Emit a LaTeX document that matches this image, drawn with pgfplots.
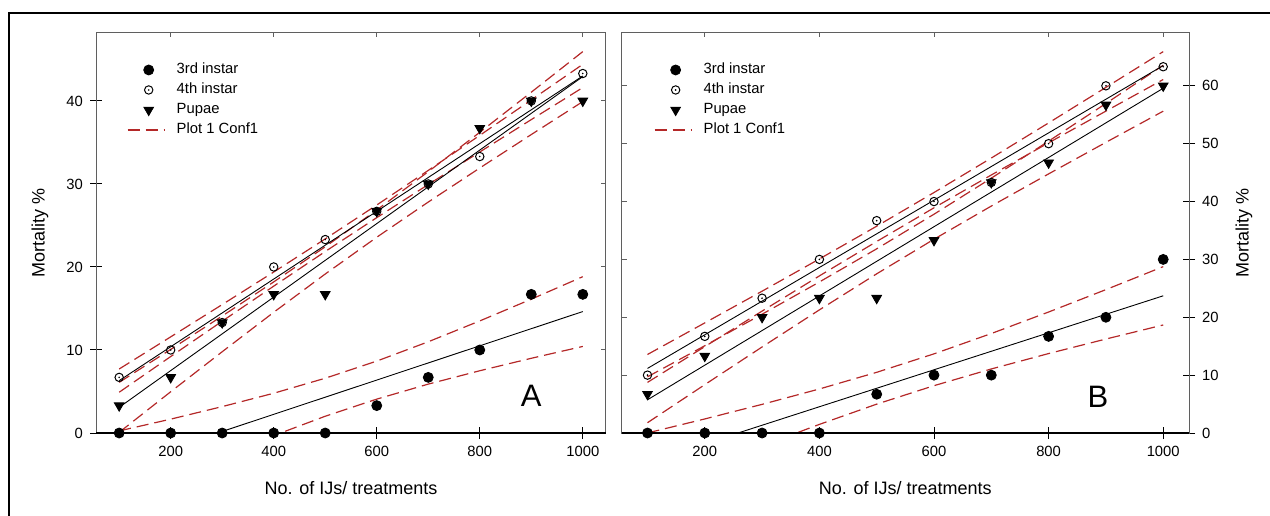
\documentclass[border=0pt]{standalone}
\usepackage{pgfplots}
\pgfplotsset{compat=1.18}
\usepackage{fontspec}
\setmainfont{Liberation Sans}

\definecolor{confred}{RGB}{180,40,40}
\definecolor{framegray}{RGB}{95,95,95}

% open circle with a centre dot
\pgfdeclareplotmark{odot}{%
  \pgfpathcircle{\pgfpointorigin}{\pgfplotmarksize}%
  \pgfusepathqstroke
  \pgfpathcircle{\pgfpointorigin}{0.22\pgfplotmarksize}%
  \pgfusepathqfill}

\pgfplotsset{
  panel/.style={
    scale only axis, height=200.5pt,
    xmin=55, xmax=1045, ymin=0,
    xtick={200,400,600,800,1000},
    tick align=center, major tick length=6pt,
    xtick pos=left,
    axis line style={draw=framegray, line width=0.5pt},
    tick style={black, line width=0.5pt},
    ticklabel style={font=\fontsize{7.4}{8}\selectfont},
    /pgf/number format/assume math mode=true,
    /pgf/number format/1000 sep={},
    label style={font=\fontsize{9}{10}\selectfont},
    xlabel={No. of IJs/ treatments},
    ylabel={Mortality \%},
    xlabel style={at={(axis description cs:0.5,-0.137)}, anchor=center},
    clip mode=individual,
    legend cell align=left,
    legend style={draw=none, fill=none, inner sep=0pt, outer sep=0pt,
      font=\fontsize{7.4}{8}\selectfont, row sep=2.1pt,
      nodes={inner sep=0.5pt, text height=5.3pt, text depth=1.6pt}},
  },
  mirror/.style={
    scale only axis, height=200.5pt,
    xmin=55, xmax=1045, ymin=0,
    xtick={200,400,600,800,1000},
    xtick pos=right,
    tick align=inside, major tick length=2.5pt,
    xticklabels={}, yticklabels={},
    axis line style={draw=none},
    tick style={framegray, line width=0.5pt},
  },
  markimg/.style={legend image code/.code={%
    \path[draw=none, fill=none] (0pt,-2pt) rectangle (24pt,2pt);
    \draw[mark repeat=2,mark phase=2,##1] plot coordinates {(0pt,0pt) (10.5pt,0pt) (18.5pt,0pt)};}},
  s3/.style={only marks, mark=*, mark size=2.5pt, black, markimg},
  s4/.style={only marks, mark=odot, mark size=2.1pt, black, line width=0.5pt, markimg},
  sp/.style={only marks, mark=triangle*, mark size=2.8pt, mark options={rotate=180}, black, markimg},
  reg/.style={black, line width=0.45pt, no marks, forget plot},
  conf/.style={confred, line width=0.6pt, dash pattern=on 6pt off 3pt, no marks,
    legend image code/.code={\path[draw=none, fill=none] (0pt,-2pt) rectangle (24pt,2pt); \draw[##1] (0pt,0pt) -- (18.5pt,0pt);}},
}

\begin{document}
\begin{tikzpicture}
\useasboundingbox (0pt,0pt) rectangle (635pt,-257.5pt);
\draw[line width=1pt] (4.5pt,-300pt) -- (4.5pt,-6.5pt) -- (700pt,-6.5pt);

% ---------------- panel A ----------------
\begin{axis}[mirror, at={(48pt,-216.5pt)}, anchor=south west, width=255pt,
  ymax=48.3, ytick={10,20,30,40}, ytick pos=right]
\end{axis}

\begin{axis}[panel, at={(48pt,-216.5pt)}, anchor=south west, width=255pt,
  ymax=48.3, ytick={0,10,20,30,40}, ytick pos=left,
  ylabel style={at={(axis description cs:-0.1098,0.5)}, anchor=center},
  legend style={at={(axis description cs:0.061,0.925)}, anchor=north west}]

% confidence bands
\addplot[conf, forget plot] coordinates {(100,7.71) (200,11.58) (300,15.47) (400,19.39) (500,23.38) (600,27.46) (700,31.63) (800,35.85) (900,40.12) (1000,44.41)};
\addplot[conf, forget plot] coordinates {(100,4.91) (200,9.21) (300,13.47) (400,17.69) (500,21.86) (600,25.94) (700,29.93) (800,33.85) (900,37.75) (1000,41.61)};
\addplot[conf, forget plot] coordinates {(100,6.10) (200,10.07) (300,14.09) (400,18.20) (500,22.43) (600,26.86) (700,31.48) (800,36.22) (900,41.05) (1000,45.94)};
\addplot[conf, forget plot] coordinates {(100,0.08) (200,4.97) (300,9.79) (400,14.54) (500,19.15) (600,23.58) (700,27.82) (800,31.92) (900,35.95) (1000,39.92)};
\addplot[conf, forget plot] coordinates {(100,0.25) (200,1.67) (300,3.18) (400,4.79) (500,6.60) (600,8.66) (700,10.99) (800,13.50) (900,16.12) (1000,18.83)};
\addplot[conf, forget plot] coordinates {(100,-8.15) (200,-5.45) (300,-2.82) (400,-0.31) (500,2.02) (600,4.08) (700,5.89) (800,7.50) (900,9.00) (1000,10.43)};

% regression lines
\addplot[reg] coordinates {(100,6.31) (1000,43.01)};
\addplot[reg] coordinates {(100,3.09) (1000,42.93)};
\addplot[reg] coordinates {(291,0) (1000,14.63)};

% data
\addplot[s3] coordinates {(100,0) (200,0) (300,0) (400,0) (500,0) (600,3.3) (700,6.7) (800,10) (900,16.7) (1000,16.7)};
\addlegendentry{3rd instar}
\addplot[s4] coordinates {(100,6.7) (200,10) (300,13.3) (400,20) (500,23.3) (600,26.7) (700,30) (800,33.3) (900,40) (1000,43.3)};
\addlegendentry{4th instar}
\addplot[sp] coordinates {(100,3.3) (200,6.7) (300,13.3) (400,16.7) (500,16.7) (600,26.7) (700,30) (800,36.7) (900,40) (1000,40)};
\addlegendentry{Pupae}
\addlegendimage{conf}
\addlegendentry{Plot 1 Conf1}

\draw[black, line width=0.9pt] (rel axis cs:0,0) -- (rel axis cs:1,0);
\node[font=\fontsize{15.5}{15.5}\selectfont] at (axis cs:900,4.5) {A};
\end{axis}

% ---------------- panel B ----------------
\begin{axis}[mirror, at={(310.85pt,-216.5pt)}, anchor=south west, width=283.65pt,
  ymax=69.3, ytick={10,20,30,40,50,60}, ytick pos=left]
\end{axis}

\begin{axis}[panel, at={(310.85pt,-216.5pt)}, anchor=south west, width=283.65pt,
  ymax=69.3, ytick={0,10,20,30,40,50,60}, ytick pos=right, yticklabel pos=right,
  ylabel style={at={(axis description cs:1.097,0.5)}, anchor=center},
  legend style={at={(axis description cs:0.057,0.925)}, anchor=north west}]

% confidence bands
\addplot[conf, forget plot] coordinates {(100,13.57) (200,19.03) (300,24.51) (400,30.08) (500,35.74) (600,41.56) (700,47.52) (800,53.59) (900,59.73) (1000,65.91)};
\addplot[conf, forget plot] coordinates {(100,8.75) (200,14.93) (300,21.07) (400,27.15) (500,33.10) (600,38.92) (700,44.59) (800,50.15) (900,55.63) (1000,61.09)};
\addplot[conf, forget plot] coordinates {(100,9.71) (200,15.08) (300,20.53) (400,26.10) (500,31.83) (600,37.81) (700,44.04) (800,50.44) (900,56.95) (1000,63.55)};
\addplot[conf, forget plot] coordinates {(100,1.78) (200,8.36) (300,14.87) (400,21.28) (500,27.51) (600,33.49) (700,39.22) (800,44.78) (900,50.23) (1000,55.62)};
\addplot[conf, forget plot] coordinates {(100,0.01) (200,2.43) (300,4.95) (400,7.61) (500,10.49) (600,13.68) (700,17.19) (800,20.91) (900,24.78) (1000,28.75)};
\addplot[conf, forget plot] coordinates {(100,-10.07) (200,-6.11) (300,-2.23) (400,1.49) (500,4.99) (600,8.18) (700,11.07) (800,13.73) (900,16.24) (1000,18.67)};

% regression lines
\addplot[reg] coordinates {(100,11.16) (1000,63.50)};
\addplot[reg] coordinates {(100,5.74) (1000,59.58)};
\addplot[reg] coordinates {(258,0) (1000,23.71)};

% data
\addplot[s3] coordinates {(100,0) (200,0) (300,0) (400,0) (500,6.7) (600,10) (700,10) (800,16.7) (900,20) (1000,30)};
\addlegendentry{3rd instar}
\addplot[s4] coordinates {(100,10) (200,16.7) (300,23.3) (400,30) (500,36.7) (600,40) (700,43.3) (800,50) (900,60) (1000,63.3)};
\addlegendentry{4th instar}
\addplot[sp] coordinates {(100,6.7) (200,13.3) (300,20) (400,23.3) (500,23.3) (600,33.3) (700,43.3) (800,46.7) (900,56.7) (1000,60)};
\addlegendentry{Pupae}
\addlegendimage{conf}
\addlegendentry{Plot 1 Conf1}

\draw[black, line width=0.9pt] (rel axis cs:0,0) -- (rel axis cs:1,0);
\node[font=\fontsize{15.5}{15.5}\selectfont] at (axis cs:886,6.2) {B};
\end{axis}
\end{tikzpicture}
\end{document}
